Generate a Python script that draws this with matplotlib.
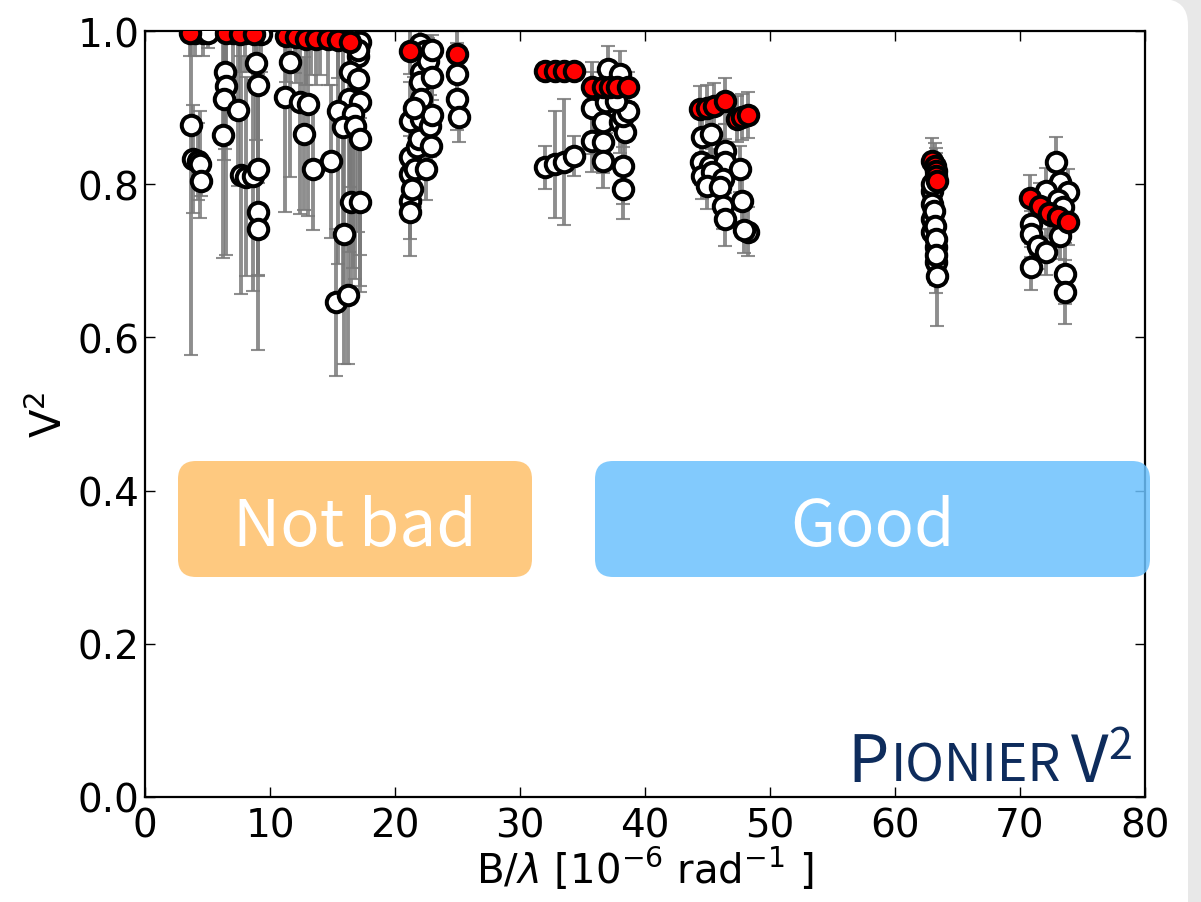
import matplotlib
matplotlib.use("Agg")
import matplotlib.pyplot as plt
from matplotlib.patches import FancyBboxPatch, Rectangle
from matplotlib.transforms import IdentityTransform

# V2 measurements, white = all channels, red = highlighted channel
white_x = [3.7, 3.8, 4.2, 4.4, 4.5, 4.0, 4.6, 5.0,
           6.4, 6.5, 6.3, 7.4, 6.2, 7.0, 8.0, 9.3,
           7.7, 8.1, 8.6, 9.0, 8.9, 9.0, 9.0, 9.0,
           11.6, 11.2, 12.4, 13.0, 12.7, 13.4, 14.9, 12.0, 13.3, 14.0,
           17.0, 16.4, 17.0, 16.3, 17.2, 15.4, 16.6, 15.8, 16.8, 17.2,
           16.5, 17.2, 15.9, 15.3, 16.2, 16.6, 17.2, 17.0,
           21.2, 21.2, 21.2, 21.2, 21.2, 21.4, 21.8, 21.9, 22.1, 22.0,
           22.1, 22.1, 22.8, 22.0, 22.4, 22.6, 23.0, 23.0, 22.9, 21.6,
           22.5, 21.5, 23.0,
           25.0, 25.0, 25.1,
           32.0, 32.8, 33.5, 34.3,
           37.0, 38.0, 35.8, 36.6, 38.0, 38.4, 35.8, 36.6, 38.2, 38.6,
           36.6, 38.2, 38.2, 36.9, 37.7,
           44.6, 45.3, 44.5, 45.2, 46.4, 46.4, 47.6, 44.6, 45.4, 46.2,
           45.0, 46.0, 46.2, 46.4, 47.8, 48.2, 47.9,
           63.0, 63.0, 63.0, 63.0, 63.3, 63.3, 63.4, 63.1, 63.2, 63.3,
           63.3, 63.0,
           72.9, 73.2, 73.8, 72.1, 70.9, 70.9, 71.4, 72.1, 73.2, 70.9,
           73.6, 73.6, 73.0, 72.5, 73.4]
white_y = [0.877, 0.833, 0.830, 0.826, 0.804, 0.998, 0.997, 0.998,
           0.946, 0.928, 0.911, 0.897, 0.864, 0.998, 0.997, 0.996,
           0.812, 0.810, 0.811, 0.820, 0.958, 0.930, 0.764, 0.742,
           0.960, 0.914, 0.907, 0.905, 0.866, 0.820, 0.830, 0.995, 0.993, 0.992,
           0.967, 0.946, 0.937, 0.911, 0.907, 0.896, 0.891, 0.875, 0.876, 0.859,
           0.777, 0.777, 0.735, 0.646, 0.655, 0.990, 0.985, 0.975,
           0.883, 0.836, 0.813, 0.778, 0.764, 0.794, 0.849, 0.859, 0.946, 0.933,
           0.911, 0.885, 0.876, 0.983, 0.974, 0.961, 0.940, 0.890, 0.850, 0.820,
           0.820, 0.900, 0.975,
           0.944, 0.911, 0.888,
           0.822, 0.826, 0.829, 0.837,
           0.950, 0.944, 0.900, 0.881, 0.881, 0.868, 0.856, 0.855, 0.889, 0.896,
           0.830, 0.824, 0.794, 0.907, 0.909,
           0.861, 0.866, 0.829, 0.824, 0.843, 0.829, 0.820, 0.811, 0.816, 0.807,
           0.798, 0.796, 0.772, 0.754, 0.778, 0.738, 0.740,
           0.791, 0.774, 0.755, 0.737, 0.718, 0.698, 0.680, 0.765, 0.745, 0.728,
           0.708, 0.800,
           0.829, 0.803, 0.790, 0.791, 0.748, 0.735, 0.719, 0.711, 0.732, 0.692,
           0.683, 0.659, 0.780, 0.760, 0.770]
white_err = [0.300, 0.070, 0.050, 0.070, 0.020, 0.030, 0.030, 0.020,
             0.100, 0.220, 0.080, 0.100, 0.160, 0.050, 0.050, 0.050,
             0.155, 0.130, 0.150, 0.140, 0.100, 0.120, 0.180, 0.060,
             0.150, 0.150, 0.146, 0.147, 0.100, 0.080, 0.100, 0.050, 0.050, 0.050,
             0.100, 0.150, 0.200, 0.200, 0.200, 0.200, 0.200, 0.220, 0.200, 0.200,
             0.120, 0.110, 0.170, 0.096, 0.090, 0.050, 0.050, 0.040,
             0.050, 0.040, 0.050, 0.050, 0.058, 0.040, 0.040, 0.040, 0.030, 0.030,
             0.040, 0.040, 0.040, 0.020, 0.020, 0.030, 0.030, 0.040, 0.030, 0.050,
             0.040, 0.040, 0.020,
             0.040, 0.040, 0.033,
             0.028, 0.070, 0.082, 0.026,
             0.030, 0.030, 0.060, 0.040, 0.040, 0.040, 0.040, 0.040, 0.040, 0.030,
             0.035, 0.050, 0.040, 0.040, 0.030,
             0.040, 0.040, 0.030, 0.030, 0.035, 0.030, 0.030, 0.030, 0.030, 0.030,
             0.030, 0.030, 0.030, 0.035, 0.030, 0.032, 0.030,
             0.030, 0.030, 0.030, 0.030, 0.040, 0.040, 0.065, 0.030, 0.035, 0.040,
             0.040, 0.030,
             0.033, 0.030, 0.030, 0.030, 0.030, 0.030, 0.030, 0.030, 0.030, 0.030,
             0.040, 0.042, 0.030, 0.030, 0.030]

red_x = [3.6, 6.5, 7.6, 8.7, 11.3, 12.1, 12.9, 13.7, 14.6, 15.4, 16.4,
         21.2, 25.0,
         32.0, 32.8, 33.5, 34.3,
         35.8, 36.6, 37.2, 37.8, 38.6,
         44.4, 45.0, 45.5, 46.4, 47.4, 47.8, 48.2,
         63.0, 63.2, 63.3, 63.3, 63.4,
         70.8, 71.6, 72.3, 73.0, 73.8]
red_y = [0.998, 0.998, 0.996, 0.996, 0.994, 0.992, 0.990, 0.990, 0.990, 0.988, 0.985,
         0.974, 0.970,
         0.948, 0.948, 0.948, 0.948,
         0.927, 0.927, 0.927, 0.927, 0.927,
         0.898, 0.899, 0.902, 0.909, 0.885, 0.888, 0.890,
         0.830, 0.824, 0.817, 0.811, 0.804,
         0.782, 0.772, 0.763, 0.757, 0.751]
red_err = [0.030, 0.050, 0.050, 0.060, 0.060, 0.060, 0.060, 0.060, 0.060, 0.050, 0.050,
           0.030, 0.030,
           0.010, 0.010, 0.010, 0.010,
           0.020, 0.020, 0.020, 0.020, 0.020,
           0.030, 0.030, 0.030, 0.030, 0.030, 0.030, 0.030,
           0.030, 0.030, 0.030, 0.030, 0.030,
           0.030, 0.030, 0.030, 0.030, 0.030]

x_ticks = [0, 10, 20, 30, 40, 50, 60, 70, 80]
y_ticks = [0.0, 0.2, 0.4, 0.6, 0.8, 1.0]

W, H = 1201, 903
fig = plt.figure(figsize=(W / 100, H / 100), dpi=100)
px = IdentityTransform()

# slide background: grey strip on the right, white card with rounded corner
fig.patches.append(Rectangle((1150, 0), 100, H, transform=px,
                             facecolor='#e8e8e8', edgecolor='none', zorder=-10))
fig.patches.append(FancyBboxPatch((-60, -60), 1188 + 60, H + 60,
                                  boxstyle='round,pad=0,rounding_size=26',
                                  transform=px,
                                  facecolor='white', edgecolor='none', zorder=-9))

ax = fig.add_axes([145 / W, 1 - 798 / H, 1000 / W, 766 / H])
ax.patch.set_alpha(0)

ebar = dict(fmt='none', ecolor='#7a7a7a', elinewidth=2.8, capsize=5,
            capthick=1.5, alpha=0.85, zorder=1)
ax.errorbar(white_x, white_y, yerr=white_err, **ebar)
ax.errorbar(red_x, red_y, yerr=red_err, **ebar)
ax.plot(white_x, white_y, 'o', mfc='white', mec='black', ms=14, mew=2.9,
        linestyle='none', zorder=3)
ax.plot(red_x, red_y, 'o', mfc='red', mec='black', ms=14, mew=2.9,
        linestyle='none', zorder=4)

ax.set_xlim(0, 80)
ax.set_ylim(0, 1)
ax.set_xticks(x_ticks)
ax.set_yticks(y_ticks)
ax.set_yticklabels(['%.1f' % v for v in y_ticks])
ax.tick_params(direction='in', top=True, right=True, length=7, width=1,
               labelsize=28)
ax.tick_params(axis='x', pad=7)
ax.tick_params(axis='y', pad=4)
for s in ax.spines.values():
    s.set_linewidth(1.6)

ax.set_xlabel(r'B/$\lambda$ [10$^{-6}$ rad$^{-1}$ ]', fontsize=29, labelpad=0)
ax.set_ylabel(r'V$^2$', fontsize=30, labelpad=5)

sans = ['Noto Sans CJK SC', 'DejaVu Sans']

# quality boxes
for (x0, x1, col, label) in [(178, 532, '#fec980', 'Not bad'),
                             (595, 1150, '#6cc1fd', 'Good')]:
    alpha = 1.0 if label == 'Not bad' else 0.85
    fig.patches.append(FancyBboxPatch((x0, H - 578), x1 - x0, 116,
                                      boxstyle='round,pad=0,rounding_size=18',
                                      transform=px,
                                      facecolor=col, edgecolor='none',
                                      alpha=alpha, zorder=5))
    fig.text((x0 + x1) / 2, H - 528, label, transform=px, color='white',
             fontsize=47, family=sans, ha='center', va='center', zorder=6)

# instrument tag, drawn as small caps, pieces laid out left to right
navy = '#0e2c5c'
renderer = fig.canvas.get_renderer()
xpos = 847
pieces = [('P', 47, 0, 0), ('IONIER', 37.5, 0, 2), ('V', 47, 0, 10), ('2', 31, 23, 0)]
for text, size, rise, gap in pieces:
    xpos += gap
    t = fig.text(xpos, H - 782 + rise, text, transform=px, color=navy,
                 fontsize=size, family=sans, weight='light',
                 ha='left', va='baseline')
    xpos = t.get_window_extent(renderer).x1

fig.savefig('out.png', dpi=100)
